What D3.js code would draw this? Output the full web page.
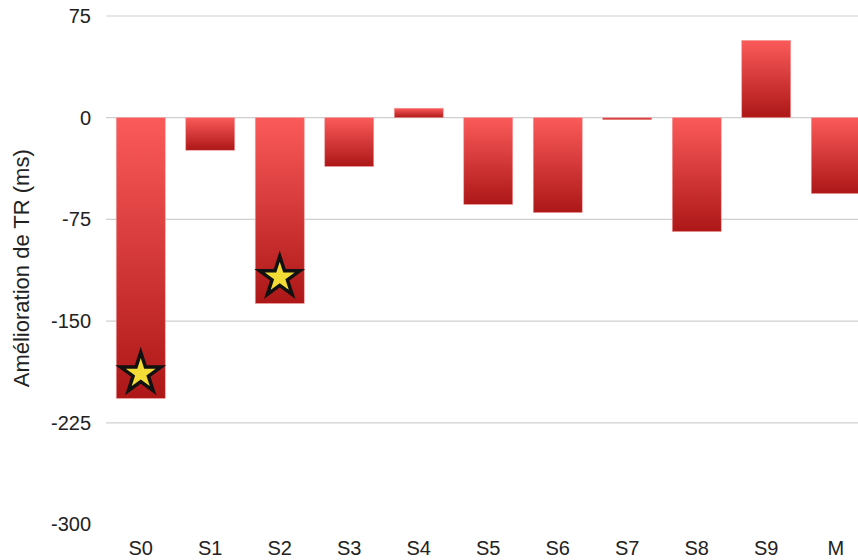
<!DOCTYPE html>
<html>
<head>
<meta charset="utf-8">
<script src="https://cdn.jsdelivr.net/npm/d3@7"></script>
<style>
  html, body { margin: 0; padding: 0; background: #fff; }
  svg { display: block; font-family: "Liberation Sans", Arial, Helvetica, sans-serif; }
</style>
</head>
<body>
<svg id="chart" width="858" height="560"></svg>
<script>
// Improvement in reaction time per subject (ms), plus mean (M)
const categories = ["S0", "S1", "S2", "S3", "S4", "S5", "S6", "S7", "S8", "S9", "M"];
const values = [-207, -24, -137, -36, 7, -64, -70, -1.5, -84, 57, -56];
// Significant results are flagged with a star placed at these values
const starCategories = ["S0", "S2"];
const starValues = [-188, -117];
const yTicks = [75, 0, -75, -150, -225, -300];
const yTitle = "Amélioration de TR (ms)";

const svg = d3.select("#chart");
const width = 858, height = 560;
const margin = { top: 16, right: -12.5, bottom: 35.5, left: 106 };

const x = d3.scaleBand()
  .domain(categories)
  .range([margin.left, width - margin.right])
  .paddingInner(0.295)
  .paddingOuter(0.1475);

const y = d3.scaleLinear()
  .domain([-300, 75])
  .range([height - margin.bottom, margin.top]);

// Vertical red gradient, lighter at the top of each bar
const defs = svg.append("defs");
const grad = defs.append("linearGradient")
  .attr("id", "barGrad")
  .attr("x1", 0).attr("y1", 0).attr("x2", 0).attr("y2", 1);
grad.append("stop").attr("offset", "0%").attr("stop-color", "#fb5a5a");
grad.append("stop").attr("offset", "100%").attr("stop-color", "#ad1717");

// Horizontal gridlines
svg.append("g")
  .selectAll("line")
  .data(yTicks.filter(d => d !== -300))
  .join("line")
  .attr("x1", margin.left)
  .attr("x2", width)
  .attr("y1", d => y(d))
  .attr("y2", d => y(d))
  .attr("stroke", "#cfcfcf")
  .attr("stroke-width", 1.2);

// Y axis tick labels (plain hyphen for negatives)
const yAxis = d3.axisLeft(y).tickValues(yTicks).tickSize(0).tickPadding(15)
  .tickFormat(d => String(d));
const gy = svg.append("g")
  .attr("transform", `translate(${margin.left},0)`)
  .call(yAxis);
gy.select(".domain").remove();
gy.selectAll("text")
  .attr("font-size", 20)
  .attr("fill", "#222")
  .attr("font-family", "'Liberation Sans', Arial, sans-serif");

// Y axis title
svg.append("text")
  .attr("transform", `translate(29,${(y(75) + y(-300)) / 2 - 2}) rotate(-90)`)
  .attr("text-anchor", "middle")
  .attr("font-size", 22)
  .attr("fill", "#222")
  .text(yTitle);

// Bars
svg.append("g")
  .selectAll("rect")
  .data(categories.map((c, i) => ({ c, v: values[i] })))
  .join("rect")
  .attr("x", d => x(d.c))
  .attr("width", x.bandwidth())
  .attr("y", d => y(Math.max(0, d.v)))
  .attr("height", d => Math.max(1.5, Math.abs(y(d.v) - y(0))))
  .attr("fill", "url(#barGrad)")
  .attr("stroke", "#f2a0a0")
  .attr("stroke-width", 0.6);

// X category labels
const xAxis = d3.axisBottom(x).tickSize(0).tickPadding(0);
const gx = svg.append("g")
  .attr("transform", `translate(0,${y(-300) + 16})`)
  .call(xAxis);
gx.select(".domain").remove();
gx.selectAll("text")
  .attr("font-size", 20)
  .attr("fill", "#222")
  .attr("font-family", "'Liberation Sans', Arial, sans-serif");

// Stars marking significant bars
const star = d3.symbol().type(d3.symbolStar).size(500);
svg.append("g")
  .selectAll("path")
  .data(starCategories.map((c, i) => ({ c, v: starValues[i] })))
  .join("path")
  .attr("transform", d => `translate(${x(d.c) + x.bandwidth() / 2},${y(d.v) + 1})`)
  .attr("d", star)
  .attr("fill", "#f2dc35")
  .attr("stroke", "#111")
  .attr("stroke-width", 3.5)
  .attr("stroke-linejoin", "miter");
</script>
</body>
</html>
